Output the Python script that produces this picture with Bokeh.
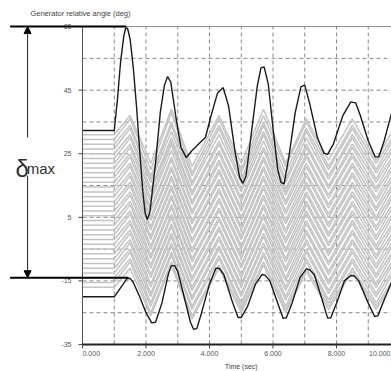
from bokeh.plotting import figure
from bokeh.models import Label, Arrow, NormalHead, Range1d, ColumnDataSource
from bokeh.core.properties import value
from bokeh.embed import file_html
from bokeh.resources import INLINE

# ---------------- data ----------------
t_min, t_max = 0, 9.73          # visible time span of the plot area (sec)
y_min, y_max = -35, 65          # angle span of the plot area (deg)

y_ticks = [-35, -15, 5, 25, 45, 65]
y_tick_labels = ["-35", "-15", "5", "25", "45", "65"]
y_grid = [-25, -15, -5, 5, 15, 25, 35, 45, 55]
x_ticks = [0, 2, 4, 6, 8]
x_tick_labels = ["0.000", "2.000", "4.000", "6.000", "8.000"]
x_tick_align = ["left", "center", "center", "center", "center"]
x_last_label = "10.000"
x_grid = [1, 2, 3, 4, 5, 6, 7, 8, 9]

# key times (sec) at which the grey machines' angles were read
grey_t = [0, 1.0, 1.5, 2.15, 2.8, 3.45, 4.3, 5.0, 5.7, 6.4, 7.05, 7.75, 8.5, 9.25, 9.75]
grey_curves = [
    [31, 31, 37, 22, 39, 21, 37, 22, 39, 22, 36, 23, 36, 23, 32],
    [29.5, 29.5, 36, 20, 38, 19, 36, 20, 37, 21, 35, 21, 34, 22, 30],
    [28, 28, 34, 18, 35, 18, 34, 19, 35, 19, 33, 20, 33, 20, 29],
    [26.5, 26.5, 33, 17, 34, 16, 33, 17, 34, 17, 32, 18, 31, 19, 27],
    [25, 25, 31, 16, 32, 15, 31, 16, 32, 16, 30, 17, 30, 17, 26],
    [23.5, 23.5, 30, 14, 30, 13, 29, 14, 31, 14, 28, 15, 28, 16, 24],
    [22, 22, 28, 13, 29, 12, 28, 13, 29, 13, 27, 14, 27, 14, 23],
    [20.5, 20.5, 27, 11, 28, 10, 26, 11, 27, 12, 25, 12, 25, 13, 21],
    [19, 19, 25, 10, 26, 9, 25, 10, 26, 10, 24, 11, 24, 11, 20],
    [17.5, 17.5, 24, 8, 24, 7, 23, 8, 24, 9, 22, 9, 22, 10, 18],
    [16, 16, 22, 7, 23, 6, 22, 7, 23, 7, 21, 8, 21, 8, 17],
    [14.5, 14.5, 21, 5, 21, 4, 20, 5, 21, 6, 19, 6, 19, 7, 15],
    [13, 13, 19, 4, 20, 3, 19, 4, 20, 4, 18, 5, 18, 5, 14],
    [11.5, 11.5, 18, 2, 18, 1, 17, 2, 18, 3, 16, 3, 16, 4, 12],
    [10, 10, 16, 1, 17, 0, 16, 1, 17, 1, 15, 2, 15, 2, 11],
    [8.5, 8.5, 15, -1, 15, -2, 14, -1, 15, 0, 13, 0, 13, 1, 9],
    [7, 7, 13, -2, 14, -3, 13, -2, 14, -2, 12, -1, 12, -1, 8],
    [5.5, 5.5, 12, -4, 12, -5, 11, -4, 12, -3, 10, -3, 10, -2, 6],
    [4, 4, 10, -5, 11, -6, 10, -5, 11, -5, 9, -4, 9, -4, 5],
    [2.5, 2.5, 9, -7, 9, -8, 8, -7, 9, -6, 7, -6, 7, -5, 3],
    [1, 1, 7, -8, 8, -9, 7, -8, 8, -8, 6, -7, 6, -7, 2],
    [-0.5, -0.5, 6, -10, 6, -11, 5, -10, 6, -9, 4, -9, 4, -8, 0],
    [-2, -2, 4, -11, 5, -12, 4, -11, 5, -11, 3, -10, 3, -10, -1],
    [-3.5, -3.5, 3, -13, 3, -14, 2, -13, 3, -12, 1, -12, 1, -11, -3],
    [-5, -5, 1, -14, 2, -15, 1, -14, 2, -14, 0, -13, 0, -13, -4],
    [-6.5, -6.5, 0, -16, 0, -17, -1, -16, 0, -15, -2, -15, -2, -14, -6],
    [-8, -8, -2, -17, -1, -18, -2, -17, -1, -17, -3, -16, -3, -16, -7],
    [-9.5, -9.5, -3, -19, -3, -20, -4, -19, -3, -18, -5, -18, -5, -17, -9],
    [-11, -11, -5, -20, -4, -21, -5, -20, -4, -20, -6, -19, -6, -19, -10],
    [-12.5, -12.5, -6, -22, -6, -23, -7, -22, -6, -21, -8, -21, -8, -20, -12],
    [-14, -14, -8, -23, -7, -24, -8, -23, -7, -23, -9, -22, -9, -22, -13],
    [-15.5, -15.5, -9, -25, -9, -26, -10, -24, -9, -24, -11, -23, -11, -23, -15],
    [-17, -17, -11, -26, -10, -27, -11, -25, -10, -25, -12, -24, -12, -24, -16],
]

# most advanced machine (upper black curve)
top_t = [0, 1.0, 1.1, 1.2, 1.3, 1.36, 1.42, 1.5, 1.6, 1.7, 1.8, 1.9, 1.97, 2.04, 2.12,
         2.3, 2.45, 2.58, 2.68, 2.78, 2.95, 3.1, 3.27, 3.45, 3.65, 3.87, 4.05, 4.25,
         4.43, 4.6, 4.8, 4.95, 5.05, 5.15, 5.3, 5.5, 5.62, 5.72, 5.85, 6.0, 6.15,
         6.25, 6.35, 6.5, 6.7, 6.88, 7.0, 7.15, 7.4, 7.6, 7.72, 7.9, 8.2, 8.45, 8.6,
         8.75, 9.0, 9.22, 9.33, 9.5, 9.73]
top_v = [32.3, 32.3, 42, 54, 62, 64.6, 64.4, 61, 52, 40, 26, 13, 6.5, 4.3, 6.5,
         22, 38, 46.5, 49.3, 47.5, 36, 27, 23.8, 26, 28, 30.1, 37, 44,
         45.8, 40, 26, 17.5, 15.7, 18, 30, 46, 52, 52.3, 47, 33, 20,
         16, 15.5, 24, 38, 46, 46.6, 41, 30, 25.2, 24.8, 28, 37, 41.3, 41,
         37, 29, 24, 24, 29, 37.6]

# least advanced machine (lower black curve)
bot_t = [0, 1.0, 1.4, 1.5, 1.6, 1.8, 2.0, 2.18, 2.3, 2.5, 2.7, 2.8, 2.9, 3.0, 3.2, 3.4,
         3.5, 3.6, 3.75, 4.0, 4.2, 4.3, 4.45, 4.7, 4.9, 5.0, 5.2, 5.45, 5.65, 5.75, 5.9,
         6.15, 6.32, 6.42, 6.6, 6.85, 7.05, 7.15, 7.3, 7.55, 7.72, 7.82, 8.0, 8.25,
         8.45, 8.55, 8.7, 9.0, 9.2, 9.3, 9.5, 9.75]
bot_v = [-20, -20, -14.3, -14.2, -15.5, -20, -25, -28.2, -28, -22, -13, -10.2, -10.2, -12,
         -20, -28, -30.2, -30, -25, -16, -11, -11, -13, -21, -26.5, -26.5, -23, -16,
         -13, -13.2, -15, -22, -26.8, -26.6, -22, -14, -11.2, -11.5, -13, -21, -26.7,
         -26.6, -22, -15, -13.3, -13.4, -15, -22, -26.2, -26, -21, -15]

delta_top = 65
delta_bot = -14
t_top_peak = 1.38
t_bot_peak = 1.45

# ---------------- figure (frame covers the whole canvas) ----------------
W, H = 391, 371
PX_T = 31.75     # pixels per second
PX_D = 3.179     # pixels per degree
p = figure(width=W, height=H, output_backend="svg", toolbar_location=None,
           title=None, x_range=Range1d(-2.583, 9.732), y_range=Range1d(-43.5, 73.2),
           min_border=0, background_fill_color="white", border_fill_color="white")
p.outline_line_color = None
p.axis.visible = False
p.grid.visible = False

FONT = "Liberation Sans"

# dashed grid
p.segment(x0=x_grid, y0=[y_min] * len(x_grid), x1=x_grid, y1=[y_max] * len(x_grid),
          line_color="#8a8a8a", line_dash="4 3", line_width=1)
p.segment(x0=[t_min] * len(y_grid), y0=y_grid, x1=[t_max] * len(y_grid), y1=y_grid,
          line_color="#8a8a8a", line_dash="4 3", line_width=1)

# grey machines
p.multi_line(xs=[grey_t] * len(grey_curves), ys=grey_curves,
             line_color="#c4c4c4", line_width=1.5)

# black extreme machines
p.line(top_t, top_v, line_color="#1a1a1a", line_width=1.4)
p.line(bot_t, bot_v, line_color="#1a1a1a", line_width=1.4)

# frame: top border, left axis, bottom axis
p.segment(x0=[t_min], y0=[y_max], x1=[t_max], y1=[y_max], line_color="#8c8c8c", line_width=1)
p.segment(x0=[t_min], y0=[y_min], x1=[t_min], y1=[y_max], line_color="#555555", line_width=1)
p.segment(x0=[t_min], y0=[y_min], x1=[t_max], y1=[y_min], line_color="#222222", line_width=2)

# tick marks (4 px outward)
tick_dx = 4 / PX_T
tick_dy = 4 / PX_D
p.segment(x0=[t_min - tick_dx] * len(y_ticks), y0=y_ticks, x1=[t_min] * len(y_ticks), y1=y_ticks,
          line_color="#444444", line_width=1)
p.segment(x0=x_ticks, y0=[y_min] * len(x_ticks), x1=x_ticks, y1=[y_min - tick_dy] * len(x_ticks),
          line_color="#444444", line_width=1)

# tick labels
p.text(x=[t_min - 11 / PX_T] * len(y_ticks), y=y_ticks, text=y_tick_labels,
       text_font=value(FONT), text_font_size="7px", text_color="#555555",
       text_align="right", text_baseline="middle")
xsrc = ColumnDataSource(dict(x=x_ticks, y=[y_min - 9 / PX_D] * len(x_ticks),
                             text=x_tick_labels, align=x_tick_align))
p.text(x="x", y="y", text="text", source=xsrc, text_align="align",
       text_font=value(FONT), text_font_size="7px", text_color="#555555",
       text_baseline="middle")
# last tick label, cut by the picture's right edge in the reference: keep it inside
p.add_layout(Label(x=t_max - 1 / PX_T, y=y_min - 9 / PX_D, text=x_last_label,
                   text_font=FONT, text_font_size="7px", text_color="#555555",
                   text_baseline="middle", text_align="right"))

# delta max annotation lines (extend into the left margin)
x_left = -2.28
p.segment(x0=[x_left, x_left], y0=[delta_top, delta_bot], x1=[t_top_peak, t_bot_peak],
          y1=[delta_top, delta_bot], line_color="black", line_width=2)
x_arrow = -1.73
p.add_layout(Arrow(start=None,
                   end=NormalHead(size=7, fill_color="black", line_color="black"),
                   x_start=x_arrow, y_start=30.1, x_end=x_arrow, y_end=delta_top,
                   line_width=1, line_color="#222222"))
p.add_layout(Arrow(start=None,
                   end=NormalHead(size=7, fill_color="black", line_color="black"),
                   x_start=x_arrow, y_start=18.1, x_end=x_arrow, y_end=delta_bot,
                   line_width=1, line_color="#222222"))

p.add_layout(Label(x=-2.11, y=20.5, text="δ", text_font=FONT, text_font_size="24px",
                   text_color="#333333", text_baseline="alphabetic"))
p.add_layout(Label(x=-1.76, y=20.3, text="max", text_font=FONT, text_font_size="15px",
                   text_color="#333333", text_baseline="alphabetic"))

# title and x label
p.add_layout(Label(x=-1.64, y=69.1, text="Generator relative angle (deg)",
                   text_font=FONT, text_font_size="7.5px", text_color="#444444",
                   text_baseline="middle"))
p.add_layout(Label(x=5.0, y=y_min - 22 / PX_D, text="Time (sec)", text_font=FONT,
                   text_font_size="7px", text_color="#444444",
                   text_baseline="middle", text_align="center"))

open("out.html", "w").write(file_html(p, INLINE))
